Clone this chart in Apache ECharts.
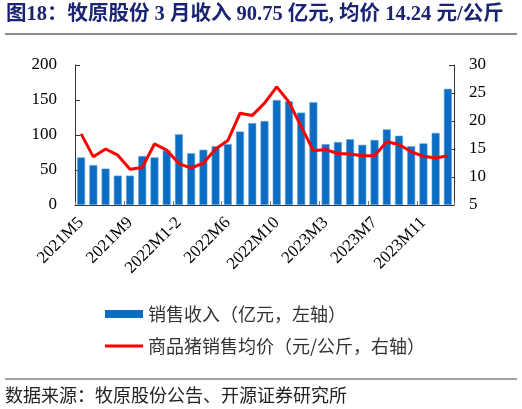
<!DOCTYPE html>
<html>
<head>
<meta charset="utf-8">
<script src="https://cdn.jsdelivr.net/npm/echarts@6/dist/echarts.min.js"></script>
<style>
  html, body { margin: 0; padding: 0; background: #fff; }
  #chart { width: 522px; height: 409px; }
</style>
</head>
<body>
<div id="chart"></div>
<script>
// 月份（1-2月合并）
var months = ['2021M5', '2021M6', '2021M7', '2021M8', '2021M9', '2021M10', '2021M11', '2021M12',
  '2022M1-2', '2022M3', '2022M4', '2022M5', '2022M6', '2022M7', '2022M8', '2022M9', '2022M10', '2022M11', '2022M12',
  '2023M1-2', '2023M3', '2023M4', '2023M5', '2023M6', '2023M7', '2023M8', '2023M9', '2023M10', '2023M11', '2023M12',
  '2024M1-2'];
// 销售收入（亿元）
var revenue = [68, 57, 52, 42, 42, 70, 68, 78, 101, 74, 79, 84, 87, 105, 117, 120, 150, 148, 132, 147,
  87, 90, 94, 86, 93, 108, 99, 84, 88, 103, 166];
// 商品猪销售均价（元/公斤）
var price = [17.7, 13.6, 15.0, 13.9, 11.4, 11.7, 15.9, 14.8, 12.4, 11.6, 12.5, 15.0, 16.5, 21.4, 21.0, 23.2,
  26.1, 23.4, 19.0, 14.7, 14.9, 14.2, 14.1, 13.8, 13.8, 16.3, 15.8, 14.5, 13.7, 13.4, 13.8];

var serif = '"Liberation Serif", "Times New Roman", serif';
var cjk = '"Noto Sans CJK SC", sans-serif';
var barName = '销售收入（亿元，左轴）';
var lineName = '商品猪销售均价（元/公斤，右轴）';

var myChart = echarts.init(document.getElementById('chart'), null, {renderer: 'canvas'});

var legendText = { fontFamily: cjk, fontSize: 18, color: '#333' };

var option = {
  animation: false,
  backgroundColor: '#fff',
  grid: { left: 75, right: 68, top: 65, bottom: 204 },
  graphic: [
    {
      type: 'text', left: 6, top: 4,
      style: {
        text: '图18：牧原股份 3 月收入 90.75 亿元, 均价 14.24 元/公斤',
        font: 'bold 20.5px ' + serif + ', ' + cjk,
        fill: '#1a2472'
      }
    },
    { type: 'line', shape: { x1: 5, y1: 34, x2: 517, y2: 34 }, style: { stroke: '#8a8a8a', lineWidth: 2 } },
    { type: 'line', shape: { x1: 5, y1: 379, x2: 517, y2: 379 }, style: { stroke: '#444', lineWidth: 1.2 } },
    {
      type: 'text', left: 5, top: 386,
      style: {
        text: '数据来源：牧原股份公告、开源证券研究所',
        font: '18px ' + cjk,
        fill: '#222'
      }
    }
  ],
  legend: [
    {
      left: 100, top: 300, padding: 5,
      itemWidth: 38, itemHeight: 8, itemGap: 6,
      itemStyle: { borderWidth: 0 },
      textStyle: legendText,
      data: [{ name: barName, icon: 'rect' }]
    },
    {
      left: 100, top: 332, padding: 5,
      itemWidth: 38, itemHeight: 3, itemGap: 6,
      textStyle: legendText,
      data: [{ name: lineName, icon: 'rect' }]
    }
  ],
  xAxis: {
    type: 'category',
    data: months,
    axisLine: { lineStyle: { color: '#333', width: 1 } },
    axisTick: { show: true, inside: true, interval: 3, length: 4, lineStyle: { color: '#777' } },
    axisLabel: {
      interval: 3, rotate: 45, margin: 15,
      fontFamily: serif, fontSize: 17, color: '#000'
    }
  },
  yAxis: [
    {
      type: 'value', min: 0, max: 200, interval: 50,
      splitLine: { show: false },
      axisLine: { show: true, lineStyle: { color: '#333' } },
      axisTick: { show: true, inside: true, length: 5, lineStyle: { color: '#333' } },
      axisLabel: { margin: 18, fontFamily: serif, fontSize: 17, color: '#000' }
    },
    {
      type: 'value', min: 5, max: 30, interval: 5,
      splitLine: { show: false },
      axisLine: { show: true, lineStyle: { color: '#333' } },
      axisTick: { show: true, inside: true, length: 5, lineStyle: { color: '#333' } },
      axisLabel: { margin: 15, fontFamily: serif, fontSize: 17, color: '#000' }
    }
  ],
  series: [
    {
      name: barName,
      type: 'bar',
      data: revenue,
      barWidth: 8,
      itemStyle: { color: '#0a6cc2', borderColor: '#6aa8dc', borderWidth: 0.6 }
    },
    {
      name: lineName,
      type: 'line',
      yAxisIndex: 1,
      data: price,
      symbol: 'none',
      lineStyle: { color: '#ff0000', width: 3 },
      itemStyle: { color: '#ff0000' }
    }
  ]
};

myChart.setOption(option);
</script>
</body>
</html>
